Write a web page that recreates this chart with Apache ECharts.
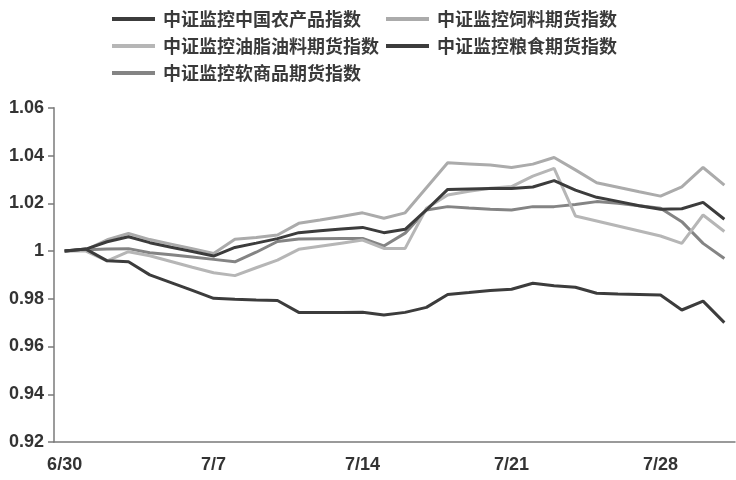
<!DOCTYPE html>
<html>
<head>
<meta charset="utf-8">
<script src="https://cdn.jsdelivr.net/npm/echarts@6/dist/echarts.min.js"></script>
<style>html,body{margin:0;padding:0;background:#fff}#c{width:736px;height:480px}</style>
</head>
<body>
<div id="c"></div>
<script>
var categories = ['6/30','7/1','7/2','7/3','7/4','7/5','7/6','7/7','7/8','7/9','7/10','7/11','7/12','7/13','7/14','7/15','7/16','7/17','7/18','7/19','7/20','7/21','7/22','7/23','7/24','7/25','7/26','7/27','7/28','7/29','7/30','7/31'];
var yTickLabels = ['0.92','0.94','0.96','0.98','1','1.02','1.04','1.06'];
var seriesNames = ['中证监控中国农产品指数','中证监控饲料期货指数','中证监控油脂油料期货指数','中证监控粮食期货指数','中证监控软商品期货指数'];
var agri = [1.0,1.0008,1.0039,1.006,1.0035,1.0016,0.9998,0.9979,1.0015,1.0033,1.0052,1.0077,1.0085,1.0092,1.0099,1.0077,1.0091,1.0172,1.0258,1.026,1.0262,1.0262,1.0268,1.0295,1.0255,1.0225,1.0208,1.019,1.0175,1.0177,1.0204,1.0133];
var feed = [1.0,1.0005,1.0047,1.0074,1.0048,1.0029,1.001,0.999,1.0049,1.0057,1.0067,1.0116,1.013,1.0145,1.016,1.0137,1.016,1.0265,1.037,1.0365,1.036,1.035,1.0364,1.0392,1.034,1.0286,1.0267,1.0248,1.023,1.0269,1.035,1.0276];
var oilseed = [1.0,1.0,0.9959,0.9997,0.998,0.9956,0.9932,0.9909,0.9897,0.993,0.9962,1.0007,1.002,1.0033,1.0046,1.0011,1.0011,1.0179,1.0235,1.025,1.0263,1.027,1.0314,1.0346,1.0147,1.0126,1.0105,1.0084,1.0063,1.0032,1.0151,1.0082];
var grain = [1.0,1.0008,0.9959,0.9955,0.99,0.9868,0.9835,0.9802,0.9798,0.9795,0.9793,0.9743,0.9743,0.9743,0.9744,0.9732,0.9743,0.9764,0.9818,0.9826,0.9835,0.984,0.9865,0.9855,0.9848,0.9823,0.982,0.9818,0.9816,0.9753,0.979,0.970];
var soft = [1.0,1.0005,1.0008,1.001,0.9993,0.9984,0.9975,0.9965,0.9955,0.9995,1.004,1.005,1.0051,1.0052,1.0053,1.0021,1.0075,1.0172,1.0186,1.018,1.0175,1.0172,1.0186,1.0186,1.0195,1.0207,1.02,1.019,1.0179,1.0123,1.0032,0.9969];

var colors = ['#3c3c3c','#ababab','#b6b6b6','#3c3c3c','#848484'];
var dataList = [agri, feed, oilseed, grain, soft];

var chart = echarts.init(document.getElementById('c'));
var legendCommon = {
  orient: 'vertical', top: 4, icon: 'rect', itemWidth: 43, itemHeight: 4, itemGap: 7,
  textStyle: {fontFamily: 'Noto Sans CJK SC', fontSize: 18, fontWeight: 'bold', color: '#3a3a3a', lineHeight: 20, padding: [0,0,0,3]}
};
chart.setOption({
  animation: false,
  color: colors,
  legend: [
    Object.assign({left: 107, data: [seriesNames[0], seriesNames[2], seriesNames[4]]}, legendCommon),
    Object.assign({left: 381, data: [seriesNames[1], seriesNames[3]]}, legendCommon)
  ],
  grid: {left: 54, right: 1, top: 107.8, bottom: 38, containLabel: false},
  xAxis: {
    type: 'category', data: categories, boundaryGap: true,
    axisLine: {lineStyle: {color: '#7a7a7a', width: 1.5}},
    axisTick: {interval: 6, length: 6, lineStyle: {color: '#7a7a7a', width: 1.5}},
    axisLabel: {interval: 6, margin: 14, fontFamily: 'Liberation Sans', fontSize: 18, fontWeight: 'bold', color: '#333'},
    splitLine: {show: false}
  },
  yAxis: {
    type: 'value', min: 0.92, max: 1.06, interval: 0.02,
    axisLine: {show: true, lineStyle: {color: '#7a7a7a', width: 1.5}},
    axisTick: {show: true, length: 6, lineStyle: {color: '#7a7a7a', width: 1.5}},
    axisLabel: {margin: 10, fontFamily: 'Liberation Sans', fontSize: 18, fontWeight: 'bold', color: '#333',
      formatter: function (v) { var i = Math.round((v - 0.92) / 0.02); return yTickLabels[i] || ''; }},
    splitLine: {show: false}
  },
  series: seriesNames.map(function (n, i) {
    return {name: n, type: 'line', data: dataList[i], symbol: 'none', lineStyle: {width: 3, color: colors[i]}, itemStyle: {color: colors[i]}, z: [5,2,3,4,1][i]};
  })
});
</script>
</body>
</html>
